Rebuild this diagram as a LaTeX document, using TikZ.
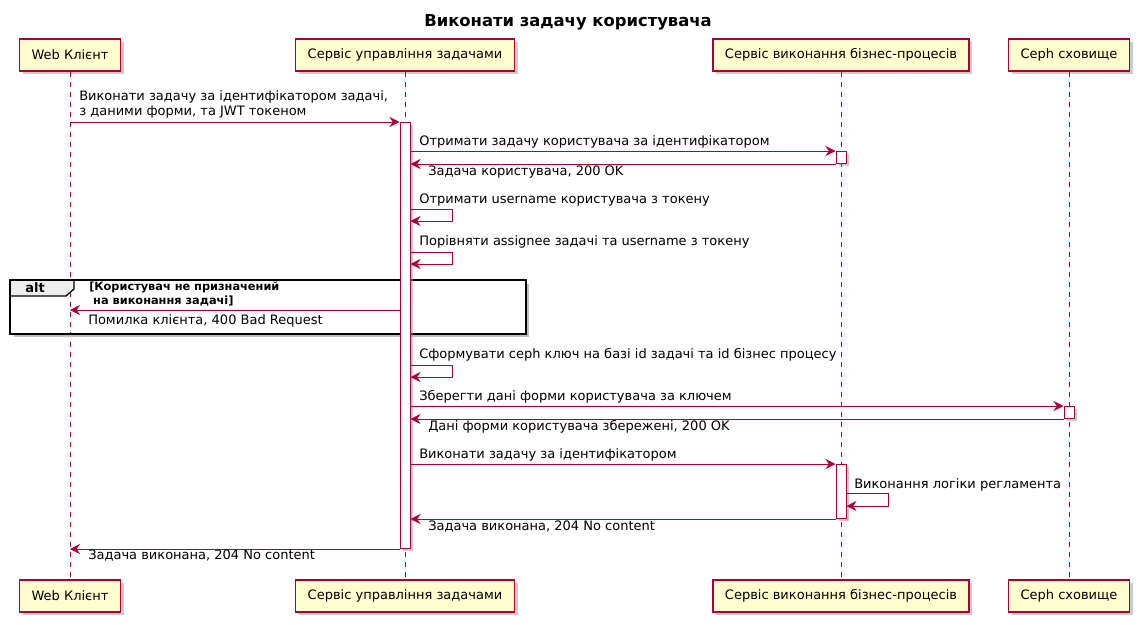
\documentclass[tikz,border=0pt]{standalone}
\usepackage{fontspec}
\setmainfont{DejaVu Sans}
\usetikzlibrary{arrows.meta, positioning, shadows}
\definecolor{umlred}{HTML}{A80036}
\definecolor{umlyellow}{HTML}{FEFECE}
\definecolor{umlgray}{HTML}{EEEEEE}

\begin{document}
\begin{tikzpicture}[x=0.75pt, y=-0.75pt,
    part/.style={draw=umlred, fill=umlyellow, line width=0.9pt, minimum height=24pt, inner xsep=9pt,
      font=\fontsize{9.75}{11.25}\selectfont,
      drop shadow={shadow xshift=2.5pt, shadow yshift=-2.5pt, fill=black!45, opacity=0.45}},
    life/.style={umlred, line width=0.75pt, dash pattern=on 3.75pt off 3.75pt},
    bar/.style={draw=umlred, fill=white, line width=0.75pt, minimum width=7.5pt, inner sep=0pt, anchor=north,
      drop shadow={shadow xshift=2pt, shadow yshift=-2pt, fill=black!45, opacity=0.45}},
    msg/.style={umlred, line width=0.75pt, -{Stealth[length=7.5pt, width=7.5pt, inset=2.5pt]}},
    lbl/.style={anchor=west, inner sep=0pt, align=left, font=\fontsize{9.75}{11.25}\selectfont},
    guard/.style={anchor=west, inner sep=0pt, align=left, font=\fontsize{8.5}{10.5}\selectfont\bfseries},
  ]
  \fill[white] (0,0) rectangle (1140,625);
  \useasboundingbox (0,0) rectangle (1140,625);

  \node[font=\fontsize{12.3}{14}\selectfont\bfseries] (title) at (568,22) {Виконати задачу користувача};

  \node[part] (web) at (70,55) {Web Клієнт};
  \node[part] (svc) at (405,55) {Сервіс управління задачами};
  \node[part] (bpm) at (841,55) {Сервіс виконання бізнес-процесів};
  \node[part] (ceph) at (1069,55) {Ceph сховище};
  \node[part] (webF) at (web |- 0,596) {Web Клієнт};
  \node[part] (svcF) at (svc |- 0,596) {Сервіс управління задачами};
  \node[part] (bpmF) at (bpm |- 0,596) {Сервіс виконання бізнес-процесів};
  \node[part] (cephF) at (ceph |- 0,596) {Ceph сховище};

  \draw[life] (web) -- (webF);
  \draw[life] (svc) -- (svcF);
  \draw[life] (bpm) -- (bpmF);
  \draw[life] (ceph) -- (cephF);

  \draw[black!25, line width=2pt] (14,336) -- (528,336) -- (528,284);
  \draw[fill=umlgray, line width=1pt] (10,280) -- (74,280) -- (74,289) -- (66,296) -- (10,296) -- cycle;
  \draw[line width=1.5pt] (10,280) rectangle (526,334);
  \node[font=\fontsize{9.75}{11.25}\selectfont\bfseries] (alt) at (35,288) {alt};
  \node[guard] (cond) at (89,294) {[Користувач не призначений\\\hspace{.35em}на виконання задачі]};

  \node[bar, minimum height=319.5pt] (b1) at (405,122) {};
  \node[bar, minimum height=9pt] (b2) at (841,151) {};
  \node[bar, minimum height=9pt] (b3) at (1069,406) {};
  \node[bar, minimum height=40.5pt] (b4) at (841,464) {};

  \draw[msg] (web |- b1.north) -- (b1.north west);
  \node[lbl] (m1) at (79,104.5) {Виконати задачу за ідентифікатором задачі,\\з даними форми, та JWT токеном};
  \draw[msg] (b1.east |- b2.north) -- (b2.north west);
  \node[lbl] (m2) at (419,142) {Отримати задачу користувача за ідентифікатором};
  \draw[msg] (b2.south west) -- (b1.east |- b2.south);
  \node[lbl] (m3) at (428,172) {Задача користувача, 200 OK};
  \draw[msg] (b1.east |- 0,209) -- ++(42,0) -- ++(0,12) -- (b1.east |- 0,221);
  \node[lbl] (m4) at (419,200) {Отримати username користувача з токену};
  \draw[msg] (b1.east |- 0,252) -- ++(42,0) -- ++(0,12) -- (b1.east |- 0,264);
  \node[lbl] (m5) at (419,242) {Порівняти assignee задачі та username з токену};
  \draw[msg] (b1.west |- 0,310) -- (web |- 0,310);
  \node[lbl] (m6) at (88,321) {Помилка клієнта, 400 Bad Request};
  \draw[msg] (b1.east |- 0,365) -- ++(42,0) -- ++(0,12) -- (b1.east |- 0,377);
  \node[lbl] (m7) at (419,355) {Сформувати ceph ключ на базі id задачі та id бізнес процесу};
  \draw[msg] (b1.east |- b3.north) -- (b3.north west);
  \node[lbl] (m8) at (419,397) {Зберегти дані форми користувача за ключем};
  \draw[msg] (b3.south west) -- (b1.east |- b3.south);
  \node[lbl] (m9) at (428,427) {Дані форми користувача збережені, 200 OK};
  \draw[msg] (b1.east |- b4.north) -- (b4.north west);
  \node[lbl] (m10) at (419,455) {Виконати задачу за ідентифікатором};
  \draw[msg] (b4.east |- 0,493) -- ++(42,0) -- ++(0,13) -- (b4.east |- 0,506);
  \node[lbl] (m11) at (854,485) {Виконання логіки регламента};
  \draw[msg] (b4.south west) -- (b1.east |- b4.south);
  \node[lbl] (m12) at (428,527) {Задача виконана, 204 No content};
  \draw[msg] (b1.south west) -- (web |- b1.south);
  \node[lbl] (m13) at (88,556) {Задача виконана, 204 No content};
\end{tikzpicture}
\end{document}
